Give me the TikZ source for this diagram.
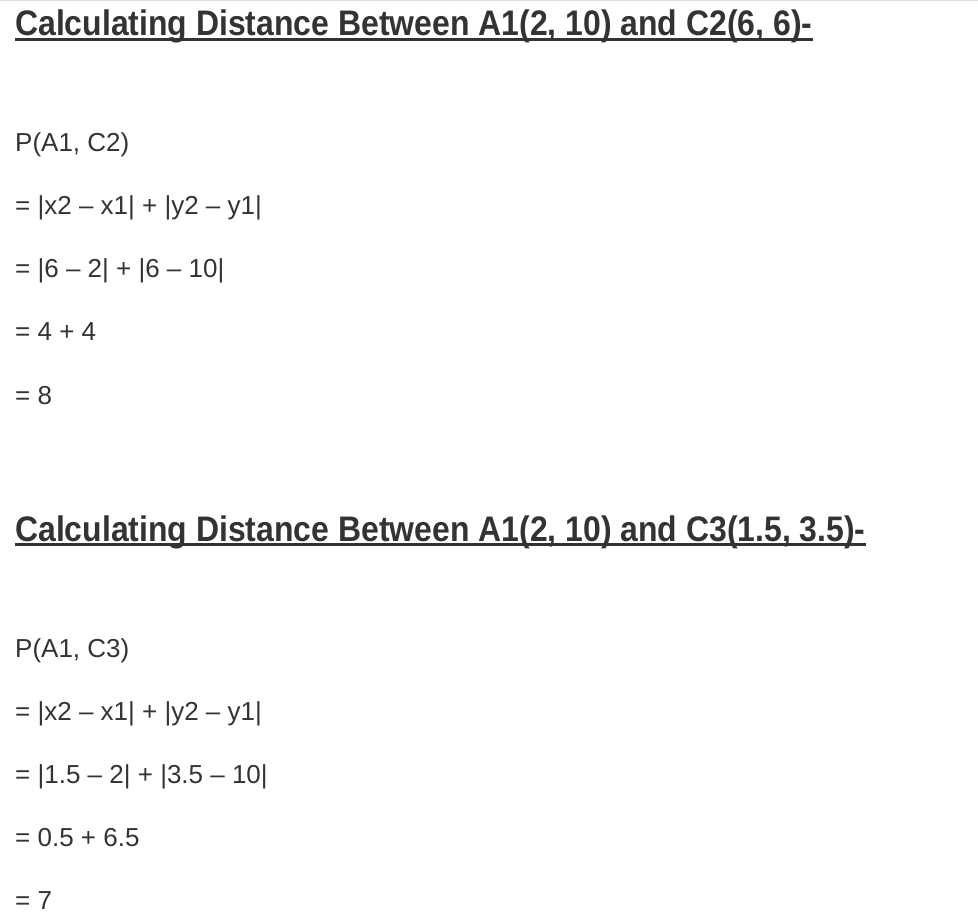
\documentclass[tikz,border=0pt]{standalone}
\usepackage{fontspec}
\usepackage{xcolor}
\setmainfont{Liberation Sans}
\newfontfamily\headfont[FakeStretch=0.9]{Liberation Sans}
\usetikzlibrary{positioning}
\definecolor{textgray}{HTML}{333333}
\definecolor{rulegray}{HTML}{DDDDDD}

\begin{document}
\begin{tikzpicture}[x=1pt, y=-1pt,
	heading/.style={inner sep=0pt, anchor=base west, text=textgray, font=\headfont\bfseries\fontsize{35.5}{42}\selectfont},
	body/.style={inner sep=0pt, anchor=base west, text=textgray, font=\fontsize{26}{30}\selectfont},
	uline/.style={draw=textgray, line width=2.4pt}]
			\useasboundingbox (0,0) rectangle (978,920);
			\draw[rulegray, line width=1.5pt] (0,0.75) -- (978,0.75);

			\node[heading] (h1) at (15,36) {Calculating Distance Between A1(2, 10) and C2(6, 6)-};
			\node[body, below = 116pt of h1.base west, anchor=base west] (p1) {P(A1, C2)};
			\node[body, below = 63pt of p1.base west, anchor=base west] (p2) {= |x2 – x1| + |y2 – y1|};
			\node[body, below = 63pt of p2.base west, anchor=base west] (p3) {= |6 – 2| + |6 – 10|};
			\node[body, below = 63pt of p3.base west, anchor=base west] (p4) {= 4 + 4};
			\node[body, below = 63pt of p4.base west, anchor=base west] (p5) {= 8};

			\node[heading, below = 137pt of p5.base west, anchor=base west] (h2) {Calculating Distance Between A1(2, 10) and C3(1.5, 3.5)-};
			\node[body, below = 116pt of h2.base west, anchor=base west] (q1) {P(A1, C3)};
			\node[body, below = 63pt of q1.base west, anchor=base west] (q2) {= |x2 – x1| + |y2 – y1|};
			\node[body, below = 63pt of q2.base west, anchor=base west] (q3) {= |1.5 – 2| + |3.5 – 10|};
			\node[body, below = 63pt of q3.base west, anchor=base west] (q4) {= 0.5 + 6.5};
			\node[body, below = 63pt of q4.base west, anchor=base west] (q5) {= 7};

			\draw[uline] ([yshift=-3.5pt]h1.base west) -- ([yshift=-3.5pt]h1.base east);
			\draw[uline] ([yshift=-3.5pt]h2.base west) -- ([yshift=-3.5pt]h2.base east);
		\end{tikzpicture}
\end{document}
